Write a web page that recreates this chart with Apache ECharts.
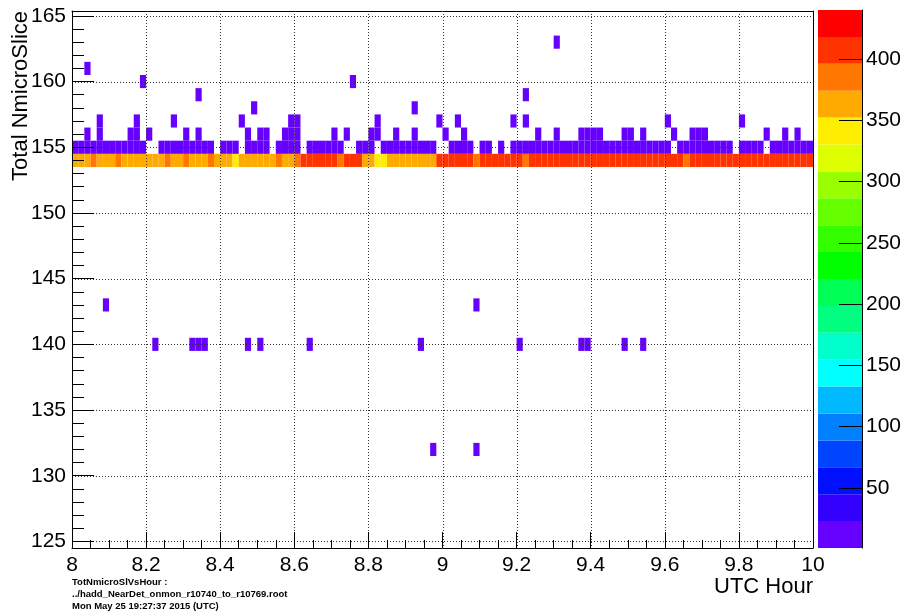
<!DOCTYPE html>
<html>
<head>
<meta charset="utf-8">
<script src="https://cdn.jsdelivr.net/npm/echarts@6/dist/echarts.min.js"></script>
<style>
html,body{margin:0;padding:0;background:#fff;}
#chart{width:908px;height:616px;}
</style>
</head>
<body>
<div id="chart"></div>
<script>
// ---------------- data ----------------
const xStartHour = 8;
const binWidthHour = 1 / 60;             // one-minute bins
const xTicks = [8, 8.2, 8.4, 8.6, 8.8, 9, 9.2, 9.4, 9.6, 9.8, 10];
const yTicks = [125, 130, 135, 140, 145, 150, 155, 160, 165];
const yMinorTicks = [125,126,127,128,129,130,131,132,133,134,135,136,137,138,139,140,
  141,142,143,144,145,146,147,148,149,150,151,152,153,154,155,156,157,158,159,160,
  161,162,163,164,165];
const zTicks = [50, 100, 150, 200, 250, 300, 350, 400];
const zMin = 1, zMax = 440;
const paletteColors = ['#6600ff','#3300ff','#0010ff','#0044ff','#0080ff','#00b8ff','#00ffff',
  '#00ffcc','#00ff80','#00ff55','#00ff00','#33ff00','#66ff00','#99ff00','#ddff00',
  '#ffee00','#ffaa00','#ff7700','#ff3300','#ff0000'];

// counts per minute bin (120 bins, 8:00 -> 10:00)
const row154Counts = [365,362,368,385,366,364,369,386,363,367,365,370,362,366,368,384,
  365,367,388,364,369,366,383,367,363,370,345,366,364,368,362,367,365,387,369,364,385,
  405,410,408,412,406,409,389,407,411,404,368,371,348,345,366,363,369,365,367,362,370,364,
  410,406,412,408,405,411,386,409,407,413,405,410,408,406,388,
  410,407,412,405,409,411,406,408,413,404,410,407,409,412,405,408,411,406,410,407,413,405,409,408,411,
  387,408,411,406,410,405,412,407,409,404,410,408,413,406,409,411,405,410,407,412,408];
const row155Counts = [6,5,7,6,8,5,6,7,5,6,8,6, 0,0, 7,6,5,8,6,7,5,6,7, 0, 6,7,5, 0,
  8,6,7,6, 0, 5,7,6,8, 0, 6,7,5,6,8,6, 0,0, 7,5,6, 0, 6,8,7,5,6,7,6,5,8, 0,0,
  7,6,5,7, 0, 6,7, 0, 5, 0,
  6,7,8,6,5,7,6,8,7,6,5,7,8,6,7,5,6,8,7,6,5,7,6,8,6,7, 0,
  7,6,5,8,6,7,6,5,7, 0, 6,8,7,6, 0, 7,5,6,8,6,7,6];
// single-entry bins (minute index) per NmicroSlice value
const row132Minutes = [58, 65];
const row140Minutes = [13, 19, 20, 21, 28, 30, 38, 56, 72, 82, 83, 89, 92];
const row143Minutes = [5, 65];
const row156Minutes = [2,4,9,10,12,18,20,28,30,31,34,35,36,42,44,48,49,52,55,60,63,75,78,
  82,83,84,85,89,90,92,97,100,101,102,112,115,117];
const row157Minutes = [4, 10, 16, 27, 35, 36, 49, 59, 62, 71, 73, 96, 108];
const row158Minutes = [29, 55];
const row159Minutes = [20, 73];
const row160Minutes = [11, 45];
const row161Minutes = [2];
const row163Minutes = [78];

// ---------------- build cells ----------------
const cells = [];
row154Counts.forEach((c, m) => { if (c > 0) cells.push([xStartHour + m * binWidthHour, 154, c]); });
row155Counts.forEach((c, m) => { if (c > 0) cells.push([xStartHour + m * binWidthHour, 155, c]); });
[[132,row132Minutes],[140,row140Minutes],[143,row143Minutes],[156,row156Minutes],[157,row157Minutes],
 [158,row158Minutes],[159,row159Minutes],[160,row160Minutes],[161,row161Minutes],[163,row163Minutes]]
  .forEach(([y, list]) => list.forEach(m => cells.push([xStartHour + m * binWidthHour, y, 1])));

const nBands = paletteColors.length;
const bandStep = (zMax - zMin) / nBands;
function colorFor(v) {
  let k = Math.floor((v - zMin) / bandStep);
  if (k < 0) k = 0; if (k > nBands - 1) k = nBands - 1;
  return paletteColors[k];
}
const bandIndex = paletteColors.map((c, i) => [i]);

const FONT = 'Liberation Sans, Arial, Helvetica, sans-serif';
const yRange = { min: 124.5, max: 165.37 };

const chart = echarts.init(document.getElementById('chart'), null, { renderer: 'canvas' });
chart.setOption({
  animation: false,
  backgroundColor: '#fff',
  grid: [
    { left: 72, top: 11, width: 741, height: 537, show: false },
    { left: 818, top: 10, width: 44, height: 538, show: false }
  ],
  xAxis: [
    { gridIndex: 0, type: 'value', min: 8, max: 10, interval: 0.2, position: 'bottom', z: 10,
      axisLine: { show: true, onZero: false, lineStyle: { color: '#000', width: 1 } },
      axisTick: { show: true, inside: true, length: 16, lineStyle: { color: '#000' } },
      minorTick: { show: true, splitNumber: 4, length: 8, lineStyle: { color: '#000' } },
      axisLabel: { margin: 7, fontSize: 21, color: '#000', fontFamily: FONT,
        formatter: v => String(+(+v).toFixed(1)) },
      splitLine: { show: false } },
    { gridIndex: 0, type: 'value', min: 8, max: 10, position: 'top', z: 10,
      axisLine: { show: true, onZero: false, lineStyle: { color: '#000', width: 1 } },
      axisTick: { show: false }, axisLabel: { show: false }, splitLine: { show: false } },
    { gridIndex: 1, type: 'value', min: 0, max: 1, show: false }
  ],
  yAxis: [
    { gridIndex: 0, type: 'value', min: yRange.min, max: yRange.max, position: 'left', z: 10,
      axisLine: { show: true, onZero: false, lineStyle: { color: '#000', width: 1 } },
      axisTick: { show: true, inside: true, length: 22, customValues: yTicks, lineStyle: { color: '#000' } },
      axisLabel: { customValues: yTicks, margin: 6, fontSize: 21, color: '#000', fontFamily: FONT },
      splitLine: { show: false } },
    { gridIndex: 0, type: 'value', min: yRange.min, max: yRange.max, position: 'left', offset: 0, z: 10,
      axisLine: { show: false },
      axisTick: { show: true, inside: true, length: 12, customValues: yMinorTicks, lineStyle: { color: '#000' } },
      axisLabel: { show: false }, splitLine: { show: false } },
    { gridIndex: 0, type: 'value', min: yRange.min, max: yRange.max, position: 'right', z: 10,
      axisLine: { show: true, onZero: false, lineStyle: { color: '#000', width: 1 } },
      axisTick: { show: false }, axisLabel: { show: false }, splitLine: { show: false } },
    { gridIndex: 1, type: 'value', min: zMin, max: zMax, position: 'right', z: 10,
      axisLine: { show: true, onZero: false, lineStyle: { color: '#000', width: 1 } },
      axisTick: { show: true, inside: true, length: 23, customValues: zTicks, lineStyle: { color: '#000' } },
      axisLabel: { customValues: zTicks, margin: 4, fontSize: 21, color: '#000', fontFamily: FONT },
      splitLine: { show: false } }
  ],
  series: [
    { type: 'custom', name: 'TotNmicroSlVsHour', xAxisIndex: 0, yAxisIndex: 0, clip: true, z: 2, silent: true,
      encode: { x: 0, y: 1 }, data: cells,
      renderItem: (params, api) => {
        const x = api.value(0), y = api.value(1), v = api.value(2);
        const p0 = api.coord([x, y + 0.5]);
        const p1 = api.coord([x + binWidthHour, y - 0.5]);
        return { type: 'rect', shape: { x: p0[0], y: p0[1], width: p1[0] - p0[0], height: p1[1] - p0[1] },
          style: { fill: colorFor(v) } };
      } },
    { type: 'custom', name: 'xgrid', xAxisIndex: 0, yAxisIndex: 0, z: 5, silent: true,
      encode: { x: 0 }, data: xTicks.slice(1, -1).map(v => [v]),
      renderItem: (params, api) => {
        const p0 = api.coord([api.value(0), yRange.max]);
        const p1 = api.coord([api.value(0), yRange.min]);
        const x = Math.round(p0[0]) + 0.5;
        return { type: 'line', shape: { x1: x, y1: p0[1], x2: x, y2: p1[1] },
          style: { stroke: '#333', lineWidth: 1, lineDash: [1, 2] } };
      } },
    { type: 'custom', name: 'ygrid', xAxisIndex: 0, yAxisIndex: 0, z: 5, silent: true,
      encode: { y: 0 }, data: yTicks.map(v => [v]),
      renderItem: (params, api) => {
        const p0 = api.coord([8, api.value(0)]);
        const p1 = api.coord([10, api.value(0)]);
        const y = Math.round(p0[1]) + 0.5;
        return { type: 'line', shape: { x1: p0[0], y1: y, x2: p1[0], y2: y },
          style: { stroke: '#333', lineWidth: 1, lineDash: [1, 2] } };
      } },
    { type: 'custom', name: 'palette', xAxisIndex: 2, yAxisIndex: 3, z: 2, silent: true,
      encode: { y: 0 }, data: bandIndex,
      renderItem: (params, api) => {
        const k = api.value(0);
        const lo = zMin + k * bandStep, hi = lo + bandStep;
        const p0 = api.coord([0, hi]);
        const p1 = api.coord([1, lo]);
        return { type: 'rect', shape: { x: p0[0], y: p0[1], width: p1[0] - p0[0], height: p1[1] - p0[1] },
          style: { fill: paletteColors[k] } };
      } }
  ],
  graphic: [
    { type: 'text', x: 813, y: 587, silent: true,
      style: { text: 'UTC Hour', font: '22px ' + FONT, fill: '#000', align: 'right', verticalAlign: 'middle' } },
    { type: 'text', x: 21, y: 11, rotation: Math.PI / 2, silent: true,
      style: { text: 'Total NmicroSlice', font: '22px ' + FONT, fill: '#000', align: 'right', verticalAlign: 'middle' } },
    { type: 'text', x: 72, y: 582, silent: true,
      style: { text: 'TotNmicroSlVsHour :', font: 'bold 9.5px ' + FONT, fill: '#000', align: 'left', verticalAlign: 'middle' } },
    { type: 'text', x: 72, y: 594, silent: true,
      style: { text: '../hadd_NearDet_onmon_r10740_to_r10769.root', font: 'bold 9.5px ' + FONT, fill: '#000', align: 'left', verticalAlign: 'middle' } },
    { type: 'text', x: 72, y: 606, silent: true,
      style: { text: 'Mon May 25 19:27:37 2015 (UTC)', font: 'bold 9.5px ' + FONT, fill: '#000', align: 'left', verticalAlign: 'middle' } }
  ]
});
</script>
</body>
</html>
